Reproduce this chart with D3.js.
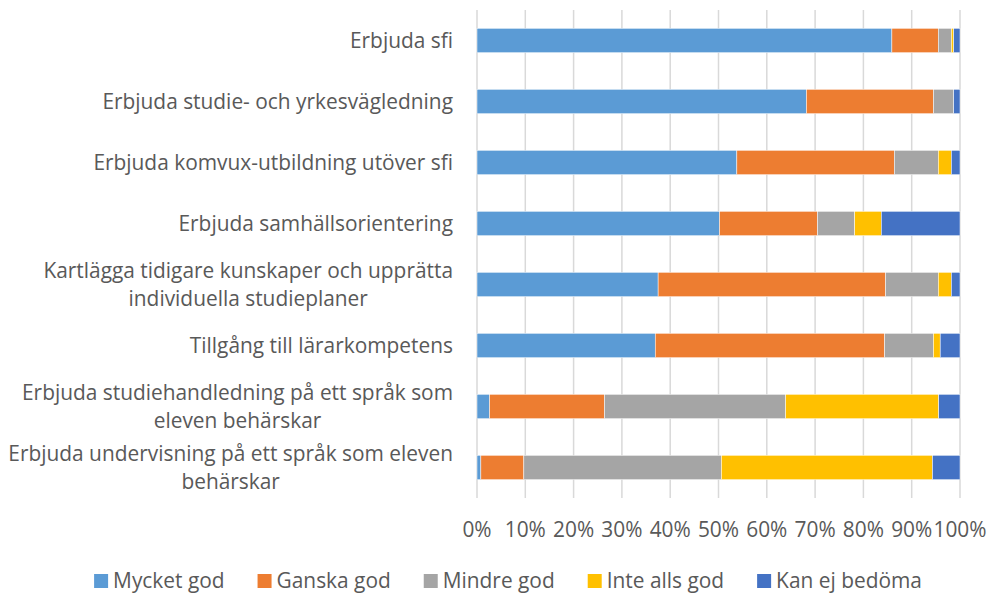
<!DOCTYPE html>
<html>
   <head>
      <meta charset="utf-8">
      <script src="https://d3js.org/d3.v7.min.js"></script>
   </head>

   <style>
      body {
         margin: 0;
         background: white;
      }

      svg text {
         font-family: "Open Sans", sans-serif;
         font-variant-ligatures: none;
         fill: #595959;
      }
   </style>
   <body>
      <svg id="chart" width="989" height="594"></svg>

      <script>
         // Categories, top to bottom (line breaks as in the original)
         let categories = [
            'Erbjuda sfi',
            'Erbjuda studie- och yrkesvägledning',
            'Erbjuda komvux-utbildning utöver sfi',
            'Erbjuda samhällsorientering',
            'Kartlägga tidigare kunskaper och upprätta\nindividuella studieplaner',
            'Tillgång till lärarkompetens',
            'Erbjuda studiehandledning på ett språk som\neleven behärskar',
            'Erbjuda undervisning på ett språk som eleven\nbehärskar',
         ];

         let seriesNames = ['Mycket god', 'Ganska god', 'Mindre god', 'Inte alls god', 'Kan ej bedöma'];
         let seriesColors = ['#5b9bd5', '#ed7d31', '#a5a5a5', '#ffc000', '#4472c4'];

         // Shares in percent, one value per category
         let mycketGod   = [85.9, 68.2, 53.8, 50.2, 37.5, 36.9,  2.6,  0.8];
         let ganskaGod   = [ 9.6, 26.3, 32.6, 20.3, 47.1, 47.5, 23.8,  8.9];
         let mindreGod   = [ 2.7,  4.2,  9.1,  7.7, 10.9, 10.1, 37.5, 40.9];
         let inteAllsGod = [ 0.5,  0.0,  2.7,  5.5,  2.7,  1.4, 31.7, 43.7];
         let kanEjBedoma = [ 1.3,  1.3,  1.8, 16.3,  1.8,  4.1,  4.4,  5.7];

         let tickValues = [0, 10, 20, 30, 40, 50, 60, 70, 80, 90, 100];

         let svg = d3.select('#chart');

         // pick a font size so the longest label line is about as wide as in the original (~445px)
         let probe = svg.append('text').attr('font-size', 20).text('Erbjuda undervisning på ett språk som eleven');
         let fontSize = 20 * 445 / probe.node().getComputedTextLength();
         probe.remove();

         // Build rows for the stack
         let rows = categories.map((c, i) => ({
            name: c,
            'Mycket god': mycketGod[i],
            'Ganska god': ganskaGod[i],
            'Mindre god': mindreGod[i],
            'Inte alls god': inteAllsGod[i],
            'Kan ej bedöma': kanEjBedoma[i],
         }));

         let stacked = d3.stack().keys(seriesNames)(rows);

         let x = d3.scaleLinear().domain([0, 100]).range([477, 960]);
         let y = d3.scaleBand().domain(categories).range([10, 498]).paddingInner(0.6).paddingOuter(0.3);

         // Vertical gridlines
         svg.append('g')
            .selectAll('line')
            .data(tickValues)
            .enter()
            .append('line')
            .attr('x1', (d) => x(d))
            .attr('x2', (d) => x(d))
            .attr('y1', 10)
            .attr('y2', 498)
            .attr('stroke', '#d9d9d9')
            .attr('stroke-width', 1.5);

         // Bar segments
         let layers = svg.append('g')
            .selectAll('g')
            .data(stacked)
            .enter()
            .append('g')
            .attr('fill', (d, i) => seriesColors[i]);

         layers.selectAll('rect')
            .data((d) => d)
            .enter()
            .append('rect')
            .attr('x', (d) => x(d[0]))
            .attr('width', (d) => x(d[1]) - x(d[0]))
            .attr('y', (d) => y(d.data.name))
            .attr('height', y.bandwidth())
            .attr('stroke', 'white')
            .attr('stroke-width', 0.5);

         // Category labels, right aligned, lines centred on each other
         let lineHeight = 28;
         let labels = svg.append('g')
            .selectAll('text')
            .data(categories)
            .enter()
            .append('text')
            .attr('font-size', fontSize)
            .attr('text-anchor', 'middle');

         labels.each(function (d) {
            let lines = d.split('\n');
            let t = d3.select(this);
            let cy = y(d) + y.bandwidth() / 2;
            lines.forEach((line, i) => {
               t.append('tspan')
                  .attr('y', cy + 7 + (i - (lines.length - 1) / 2) * lineHeight)
                  .text(line);
            });
            // right edge at 453
            let w = d3.max(t.selectAll('tspan').nodes(), (n) => n.getComputedTextLength());
            t.selectAll('tspan').attr('x', 453 - w / 2);
         });

         // Axis tick labels
         svg.append('g')
            .selectAll('text')
            .data(tickValues)
            .enter()
            .append('text')
            .attr('x', (d) => x(d))
            .attr('y', 537)
            .attr('font-size', fontSize)
            .attr('text-anchor', 'middle')
            .text((d) => d + '%');

         // Legend
         let legend = svg.append('g');
         let items = legend.selectAll('g')
            .data(seriesNames)
            .enter()
            .append('g');

         items.append('rect')
            .attr('width', 14)
            .attr('height', 14)
            .attr('y', 574)
            .attr('fill', (d, i) => seriesColors[i]);

         items.append('text')
            .attr('x', 19)
            .attr('y', 588)
            .attr('font-size', fontSize)
            .text((d) => d);

         let gap = 33;
         let widths = items.nodes().map((n) => 19 + d3.select(n).select('text').node().getComputedTextLength());
         let total = d3.sum(widths) + gap * (widths.length - 1);
         let pos = 508 - total / 2;
         items.each(function (d, i) {
            d3.select(this).attr('transform', `translate(${pos}, 0)`);
            pos += widths[i] + gap;
         });
      </script>
   </body>
</html>
